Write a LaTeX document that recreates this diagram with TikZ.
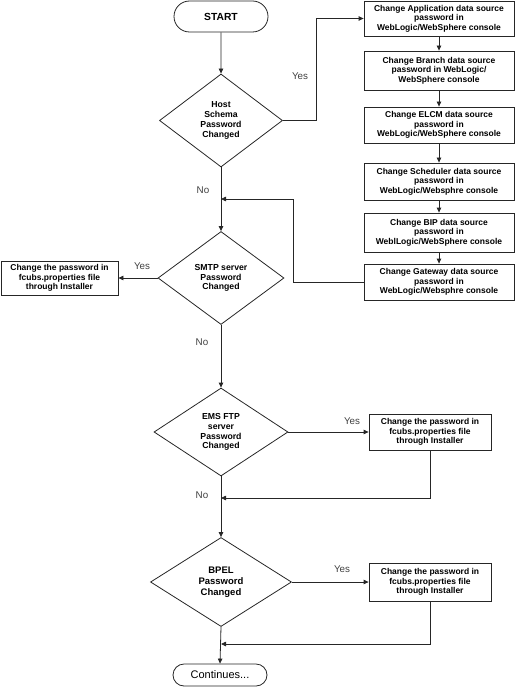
\documentclass[tikz,border=0pt]{standalone}
\usepackage{fontspec}
\setmainfont{Liberation Sans}
\usetikzlibrary{shapes.geometric,shapes.misc,arrows.meta}
\begin{document}
\begin{tikzpicture}[x=1pt,y=-1pt,
  line/.style={draw=black!85,line width=0.8pt},
  arr/.style={line,-{Triangle[length=5pt,width=4.5pt]}},
  procbox/.style={line,rectangle,inner sep=0pt,align=center,
     font=\fontsize{8.5}{9.5}\selectfont\bfseries},
  decision/.style={line,diamond,inner sep=0pt,align=center,
     font=\fontsize{8.7}{9.8}\selectfont\bfseries},
  terminal/.style={line,rounded rectangle,inner sep=0pt,align=center},
  lbl/.style={text=black!75,font=\fontsize{9.8}{11}\selectfont,inner sep=0pt}
]
\useasboundingbox (0,0) rectangle (516,687);
% terminals
\node[terminal,minimum width=94pt,minimum height=31pt,font=\fontsize{10.3}{12}\selectfont\bfseries] (start) at (221,16.5) {START};
\node[terminal,minimum width=94pt,minimum height=22pt,font=\fontsize{11}{13}\selectfont] (cont) at (220,675) {Continues...};
% decisions
\node[decision,minimum width=123pt,minimum height=93pt] (host) at (221,120.5) {Host\\Schema\\Password\\Changed};
\node[decision,minimum width=126pt,minimum height=93pt] (smtp) at (221,278) {SMTP server\\Password\\Changed};
\node[decision,minimum width=134pt,minimum height=88pt] (ems) at (221,432) {EMS FTP\\server\\Password\\Changed};
\node[decision,minimum width=141pt,minimum height=89pt,font=\fontsize{9.5}{10.8}\selectfont\bfseries] (bpel) at (221,582) {BPEL\\Password\\Changed};
% right column
\node[procbox,minimum width=150pt,minimum height=35pt] (b1) at (439,18.5) {Change Application data source\\password in\\WebLogic/WebSphere console};
\node[procbox,minimum width=150pt,minimum height=39pt] (b2) at (439,70.5) {Change Branch data source\\password in WebLogic/\\WebSphere console};
\node[procbox,minimum width=150pt,minimum height=36pt] (b3) at (439,125) {Change ELCM data source\\password in\\WebLogic/WebSphere console};
\node[procbox,minimum width=150pt,minimum height=37pt] (b4) at (439,181.5) {Change Scheduler data source\\password in\\WebLogic/Websphre console};
\node[procbox,minimum width=150pt,minimum height=39pt] (b5) at (439,232.5) {Change BIP data source\\password in\\WeblLogic/WebSphere console};
\node[procbox,minimum width=150pt,minimum height=36pt] (b6) at (439,282) {Change Gateway data source\\password in\\WebLogic/Websphre console};
% side boxes
\node[procbox,minimum width=117pt,minimum height=34pt] (smtpbox) at (59.5,278) {Change the password in\\fcubs.properties file\\through Installer};
\node[procbox,minimum width=122pt,minimum height=36pt] (emsbox) at (430,432) {Change the password in\\fcubs.properties file\\through Installer};
\node[procbox,minimum width=122pt,minimum height=38pt] (bpelbox) at (430,582) {Change the password in\\fcubs.properties file\\through Installer};
% junction coordinates
\coordinate (hy) at (316,120.5);
\coordinate (g1) at (293,282);
\coordinate (g2) at (293,199);
\coordinate (j1) at (221,199);
\coordinate (j2) at (221,498);
\coordinate (j3) at (221,644);
% connectors
\draw[arr] (start) -- (host);
\draw[arr] (host.east) -- (hy) |- (b1.west);
\draw[arr] (b1) -- (b2);
\draw[arr] (b2) -- (b3);
\draw[arr] (b3) -- (b4);
\draw[arr] (b4) -- (b5);
\draw[arr] (b5) -- (b6);
\draw[arr] (b6.west) -- (g1) -- (g2) -- (j1);
\draw[arr] (host.south) -- (smtp.north);
\draw[arr] (smtp.west) -- (smtpbox.east);
\draw[arr] (smtp.south) -- (ems.north);
\draw[arr] (ems.east) -- (emsbox.west);
\draw[arr] (emsbox.south) |- (j2);
\draw[arr] (ems.south) -- (bpel.north);
\draw[arr] (bpel.east) -- (bpelbox.west);
\draw[arr] (bpelbox.south) |- (j3);
\draw[arr] (bpel.south) -- (cont.north);
% labels
\node[lbl] (yes1) at (300,76) {Yes};
\node[lbl] (yes2) at (142,266) {Yes};
\node[lbl] (yes3) at (352,421) {Yes};
\node[lbl] (yes4) at (342,569) {Yes};
\node[lbl] (no1) at (203,190) {No};
\node[lbl] (no2) at (202,342) {No};
\node[lbl] (no3) at (202,495) {No};
\end{tikzpicture}
\end{document}
